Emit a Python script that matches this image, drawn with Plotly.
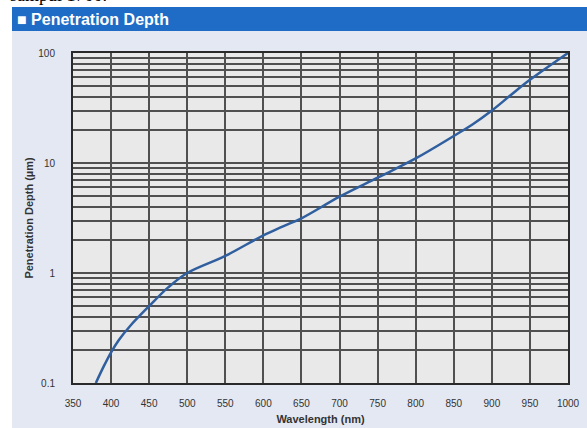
import plotly.graph_objects as go

# Data
wavelength_nm = [380, 390, 400, 410, 425, 450, 475, 500, 550, 600, 625, 650, 700, 750,
                 800, 850, 875, 900, 925, 950, 1000]
depth_um = [0.1, 0.14, 0.19, 0.245, 0.33, 0.5, 0.74, 1.0, 1.43, 2.2, 2.64, 3.14, 4.94, 7.35,
            11.0, 17.6, 22.5, 30.0, 41.5, 57.0, 100.0]

x_ticks = list(range(350, 1001, 50))
y_major = [0.1, 1, 10, 100]
y_major_labels = ["0.1", "1", "10", "100"]
y_minor = [m * d for d in (0.1, 1, 10) for m in range(2, 10)]

W, H = 587, 428
L, R, T, B = 73, 568, 53, 383  # plot area in pixels


def px(x):
    return (x - L) / (R - L)


def py(y):
    return (B - y) / (B - T)


fig = go.Figure()
fig.add_trace(go.Scatter(
    x=wavelength_nm, y=depth_um, mode="lines",
    line=dict(color="#2f5f9e", width=2.5, shape="spline", smoothing=1.0),
    hoverinfo="x+y", showlegend=False,
))

grid_col = "#505050"
fig.update_layout(
    width=W, height=H,
    margin=dict(l=L, r=W - R, t=T, b=H - B, autoexpand=False),
    paper_bgcolor="#e4e8f2",
    plot_bgcolor="#e9e9e9",
    font=dict(family="Liberation Sans, Arial, sans-serif", color="#333333", size=10),
    xaxis=dict(
        range=[350, 1000], tickvals=x_ticks, ticktext=[str(v) for v in x_ticks],
        showgrid=True, gridcolor=grid_col, gridwidth=1.6,
        showline=True, linecolor="#2a2a2a", linewidth=2, mirror=True,
        ticks="", ticklabelstandoff=10, zeroline=False,
        tickfont=dict(size=10, color="#333333"),
        title=dict(text="<b>Wavelength (nm)</b>", font=dict(size=11, color="#333333"),
                   standoff=7),
        automargin=False,
    ),
    yaxis=dict(
        type="log", range=[-1, 2], tickvals=y_major, ticktext=y_major_labels,
        showgrid=True, gridcolor=grid_col, gridwidth=1.6,
        minor=dict(tickvals=y_minor, showgrid=True, gridcolor=grid_col, gridwidth=1.6,
                   ticks=""),
        showline=True, linecolor="#2a2a2a", linewidth=2, mirror=True,
        ticks="", ticklabelstandoff=14, zeroline=False,
        tickfont=dict(size=10, color="#333333"),
        title=dict(text="<b>Penetration Depth (µm)</b>", font=dict(size=11, color="#333333"),
                   standoff=2),
        automargin=False,
    ),
    shapes=[
        # white strip at the top
        dict(type="rect", xref="paper", yref="paper", x0=px(-5), x1=px(W + 5),
             y0=py(7), y1=py(-5), fillcolor="white", line_width=0, layer="below"),
        # white strip at the left
        dict(type="rect", xref="paper", yref="paper", x0=px(-5), x1=px(12),
             y0=py(H + 5), y1=py(-5), fillcolor="white", line_width=0, layer="below"),
        # blue title bar
        dict(type="rect", xref="paper", yref="paper", x0=px(12), x1=px(W + 5),
             y0=py(31), y1=py(7), fillcolor="#1e6cc6", line_width=0, layer="below"),
    ],
    annotations=[
        dict(text="<b>■ Penetration Depth</b>", xref="paper", yref="paper",
             x=px(15), y=py(19), xanchor="left", yanchor="middle", showarrow=False,
             font=dict(size=16, color="white", family="Liberation Sans, Arial, sans-serif")),
        dict(text="sampul 1700.", xref="paper", yref="paper",
             x=px(8), y=py(7), xanchor="left", yanchor="bottom", showarrow=False,
             font=dict(size=18, color="black", family="Liberation Serif, Times New Roman, serif")),
    ],
)

fig.write_html("out.html")
